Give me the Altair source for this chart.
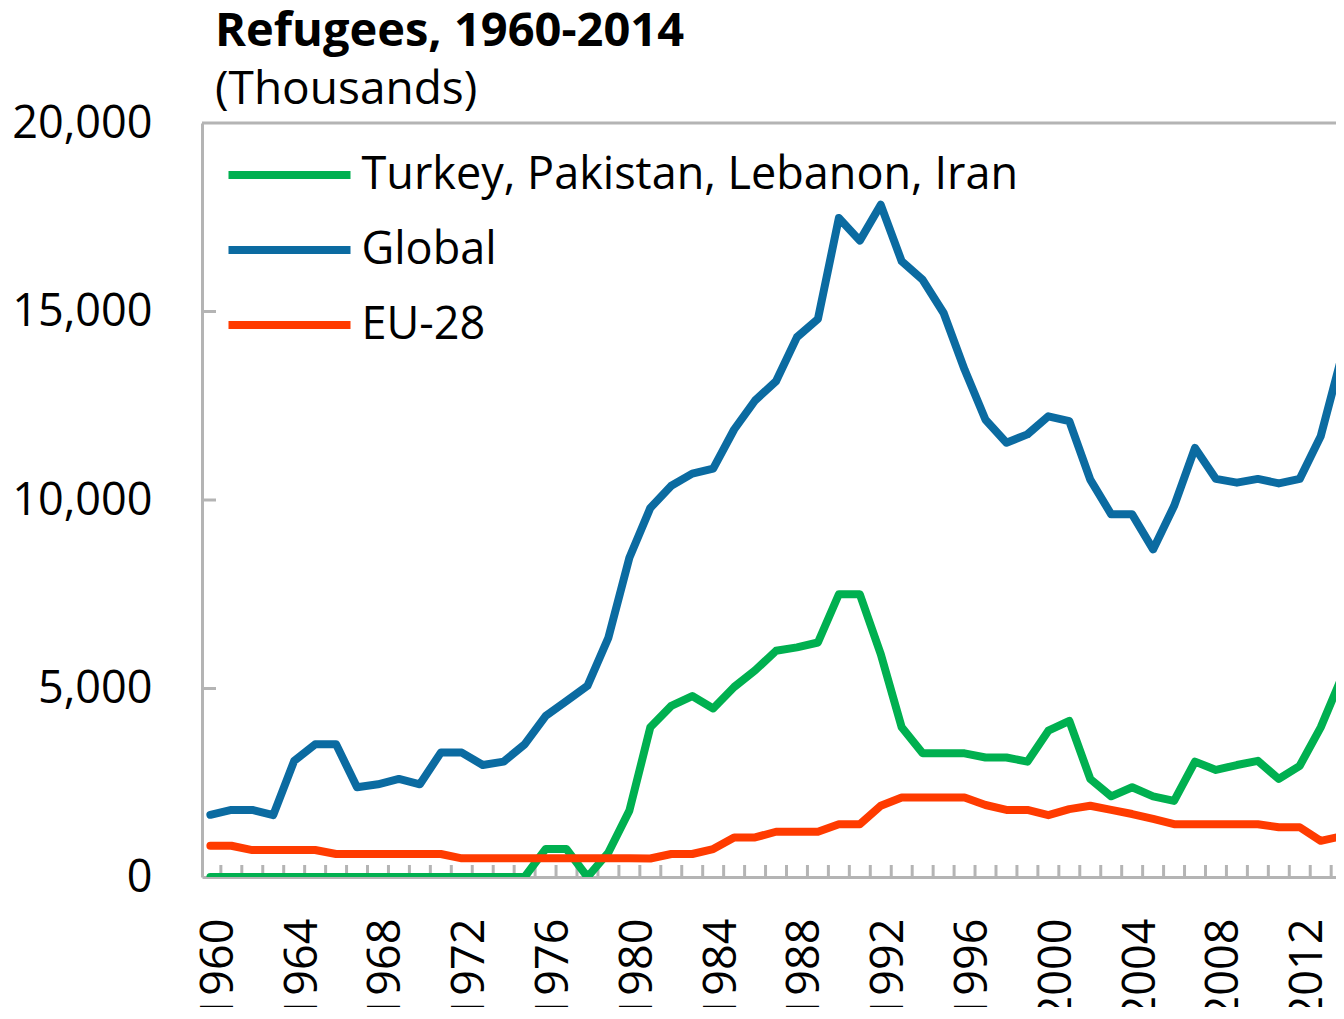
import altair as alt
import pandas as pd

years = list(range(1960, 2015))
label_years = list(range(1960, 2013, 4))
y_ticks = [0, 5000, 10000, 15000, 20000]

series_names = ["Turkey, Pakistan, Lebanon, Iran", "Global", "EU-28"]
colors = ["#00b050", "#0b6ba1", "#ff3b00"]

green = [0] * 16 + [740, 740, 0, 650, 1760, 3970, 4540, 4800, 4470, 5040,
                    5480, 6000, 6090, 6220, 7500, 7500, 5910, 3970, 3280, 3280,
                    3280, 3170, 3170, 3060, 3880, 4140, 2600, 2140, 2380, 2140,
                    2020, 3060, 2840, 2970, 3080, 2600, 2950, 3970, 5290]

global_vals = [1650, 1780, 1780, 1640, 3080, 3520, 3520, 2380, 2460, 2600,
               2460, 3300, 3300, 2970, 3060, 3520, 4270, 4670, 5070, 6350,
               8470, 9790, 10380, 10700, 10830, 11870, 12640, 13150, 14320, 14800,
               17480, 16880, 17830, 16330, 15840, 14960, 13460, 12130, 11520, 11740,
               12220, 12090, 10540, 9620, 9620, 8690, 9840, 11380, 10560, 10460,
               10560, 10440, 10560, 11690, 13800]

eu = [830, 830, 715, 715, 715, 715, 610, 610, 610, 610,
      610, 610, 495, 495, 495, 495, 495, 495, 495, 495,
      495, 490, 610, 610, 740, 1050, 1050, 1200, 1200, 1200,
      1400, 1400, 1890, 2110, 2110, 2110, 2110, 1910, 1780, 1780,
      1640, 1800, 1890, 1780, 1670, 1540, 1400, 1400, 1400, 1400,
      1400, 1320, 1320, 960, 1080]

rows = []
for name, vals in zip(series_names, [green, global_vals, eu]):
    for yr, v in zip(years, vals):
        rows.append({"year": yr, "value": v, "series": name})
df = pd.DataFrame(rows)

boundaries = pd.DataFrame({"b": [yr + 0.5 for yr in years[:-1]]})
inner_y = pd.DataFrame({"v": y_ticks[1:-1]})
top_df = pd.DataFrame({"v": [y_ticks[-1]]})

FONT = "Open Sans"
GRAY = "#b4b4b4"
W, H = 1134, 754

xscale = alt.Scale(domain=[1959.6, 2013.73], nice=False, zero=False)
yscale = alt.Scale(domain=[0, 20000], nice=False)

axis_common = dict(
    labelFont=FONT, labelFontSize=45, labelColor="black",
    ticks=False, tickSize=0, grid=False,
    domainColor=GRAY, domainWidth=3,
    labelFlush=False, labelOverlap=False, labelBound=False,
)
x_axis = alt.Axis(values=label_years, format="d", labelAngle=-90,
                  labelPadding=41, labelOffset=8, **axis_common)
y_axis = alt.Axis(values=y_ticks, format=",d", labelPadding=50, **axis_common)

lines = alt.Chart(df).mark_line(
    strokeWidth=8, strokeCap="round", strokeJoin="round", clip=True
).encode(
    x=alt.X("year:Q", scale=xscale, title=None, axis=x_axis),
    y=alt.Y("value:Q", scale=yscale, title=None, axis=y_axis),
    color=alt.Color(
        "series:N",
        scale=alt.Scale(domain=series_names, range=colors),
        legend=alt.Legend(
            title=None, orient="none", legendX=22.5, legendY=14.5,
            symbolType="stroke", symbolSize=14884, symbolStrokeWidth=8,
            labelFont=FONT, labelFontSize=45, labelColor="black",
            labelLimit=1200, clipHeight=75, rowPadding=0, labelOffset=7,
            padding=0,
        ),
    ),
)

x_ticks = alt.Chart(boundaries).mark_rule(color=GRAY, strokeWidth=3, clip=True).encode(
    x=alt.X("b:Q", scale=xscale, title=None, axis=x_axis),
    y=alt.value(H - 12),
    y2=alt.value(H),
)

y_inner = alt.Chart(inner_y).mark_rule(color=GRAY, strokeWidth=3).encode(
    y=alt.Y("v:Q", scale=yscale, title=None, axis=y_axis),
    x=alt.value(0),
    x2=alt.value(14),
)

top_line = alt.Chart(top_df).mark_rule(color=GRAY, strokeWidth=3).encode(
    y=alt.Y("v:Q", scale=yscale, title=None, axis=y_axis),
)

chart = alt.layer(x_ticks, y_inner, top_line, lines).properties(
    width=W,
    height=H,
    title=alt.TitleParams(
        text="Refugees, 1960-2014", subtitle="(Thousands)",
        anchor="start", frame="group", font=FONT, fontSize=47,
        fontWeight="bold", color="black", subtitleFont=FONT,
        subtitleFontSize=46, subtitleColor="black", subtitlePadding=12,
        offset=-13, dx=13,
    ),
    autosize=alt.AutoSizeParams(type="none"),
    padding={"left": 194, "top": 115, "right": 0, "bottom": 130},
).configure(background="white").configure_view(stroke=None)

chart.save("out.html", embed_options={"renderer": "svg", "actions": False})
